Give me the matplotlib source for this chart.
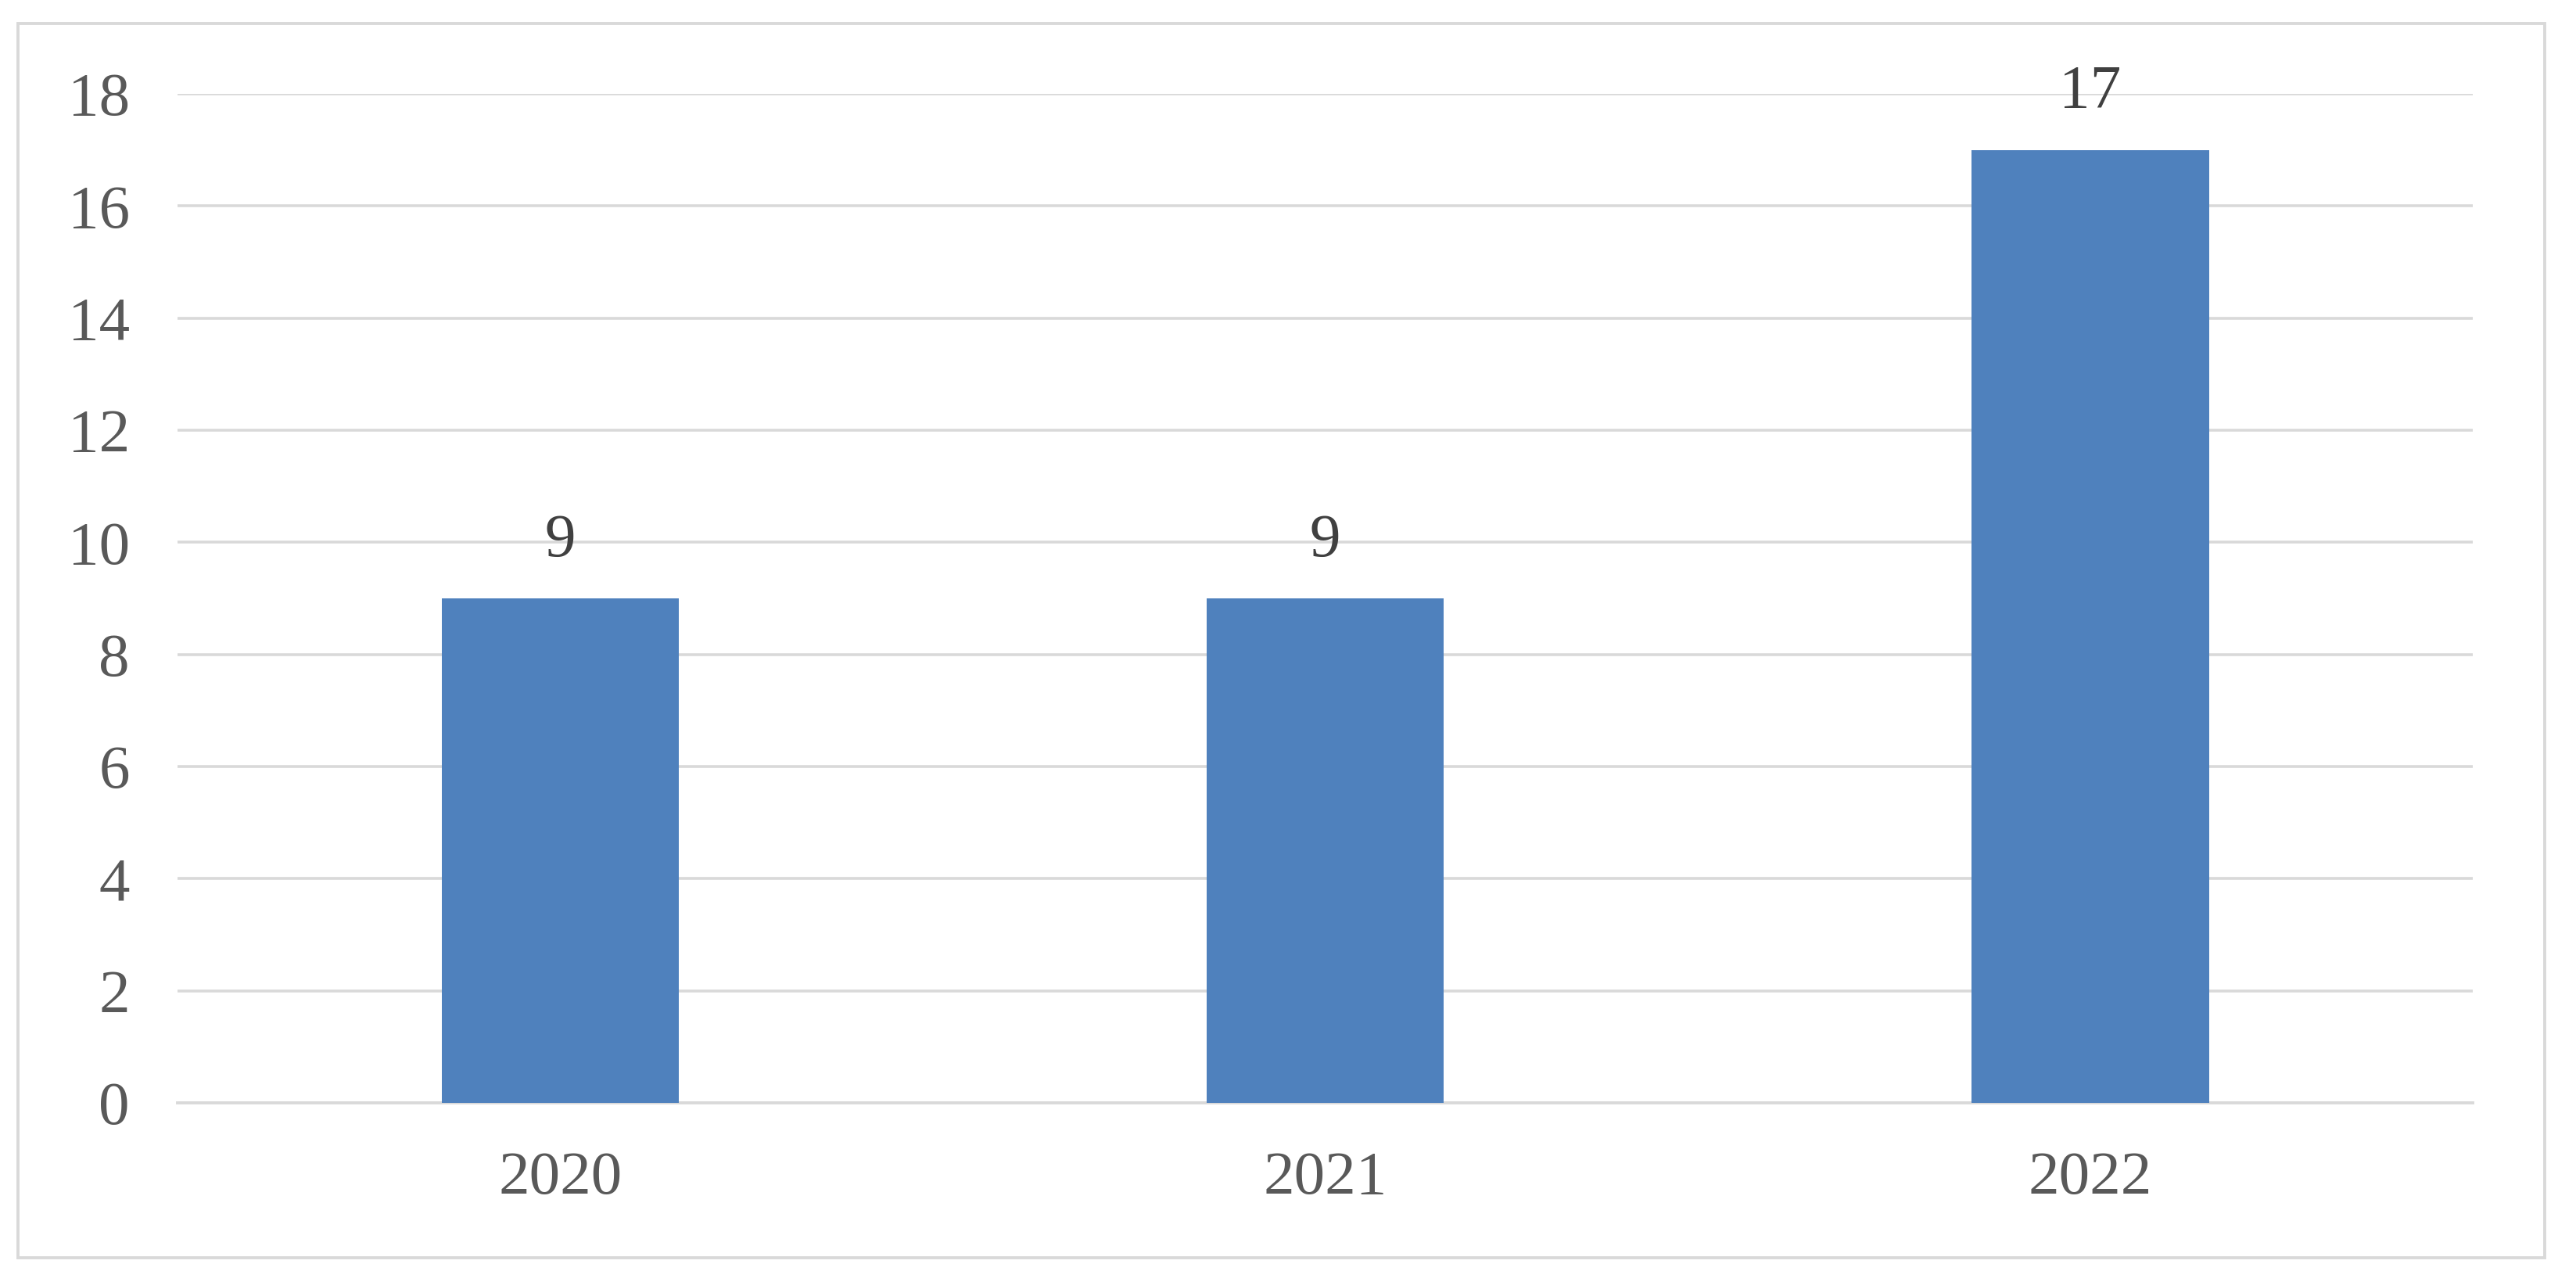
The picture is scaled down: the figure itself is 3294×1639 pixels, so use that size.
import matplotlib
matplotlib.use("Agg")
import matplotlib.pyplot as plt
from matplotlib.patches import Rectangle

# chart data
years = ["2020", "2021", "2022"]
counts = [9, 9, 17]
y_ticks = [0, 2, 4, 6, 8, 10, 12, 14, 16, 18]

bar_color = "#4F81BD"
grid_color = "#D9D9D9"
tick_color = "#595959"
label_color = "#404040"

plt.rcParams['font.family'] = ['Liberation Serif', 'DejaVu Serif']

fig = plt.figure(figsize=(32.94, 16.39), dpi=100)
fig.patch.set_facecolor("white")

# light frame round the whole chart
fig.patches.append(Rectangle((0.007, 0.019), 0.981, 0.963, transform=fig.transFigure,
                             fill=False, edgecolor=grid_color, linewidth=2.8))

ax = fig.add_axes([0.0689, 0.1397, 0.8911, 0.7871])
x = range(len(years))
bars = ax.bar(x, counts, width=0.31, color=bar_color, zorder=3)

ax.set_xlim(-0.5, len(years) - 0.5)
ax.set_ylim(0, 18)
ax.set_yticks(y_ticks)
ax.set_xticks(list(x))
ax.set_xticklabels(years)

ax.yaxis.grid(True, color=grid_color, linewidth=2.6, zorder=0)
ax.set_axisbelow(True)
for side in ["top", "right", "left"]:
    ax.spines[side].set_visible(False)
ax.spines["bottom"].set_color(grid_color)
ax.spines["bottom"].set_linewidth(2.8)

ax.tick_params(axis="y", length=0, pad=44, labelsize=57, labelcolor=tick_color)
ax.tick_params(axis="x", length=0, pad=44, labelsize=57, labelcolor=tick_color)

for rect, val in zip(bars, counts):
    ax.annotate(str(val), (rect.get_x() + rect.get_width() / 2, val),
                xytext=(0, 27), textcoords="offset points",
                ha="center", va="bottom", fontsize=57, color=label_color)

fig.savefig("out.png", dpi=100, facecolor="white")
